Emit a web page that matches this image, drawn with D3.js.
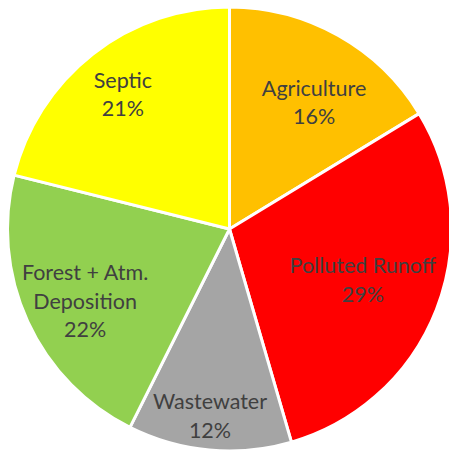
<!DOCTYPE html>
<html>
<head>
<meta charset="utf-8">
<script src="https://cdn.jsdelivr.net/npm/d3@7"></script>
<style>
  html, body { margin: 0; padding: 0; background: #fff; }
  svg text { font-family: Lato, "Open Sans", sans-serif; }
</style>
</head>
<body>
<div id="chart"></div>
<script>
// slice data, clockwise from 12 o'clock
var categories = ["Agriculture", "Polluted Runoff", "Wastewater", "Forest + Atm. Deposition", "Septic"];
var shares = [16.3, 29.2, 11.9, 21.5, 21.1];
var colors = ["#FFC000", "#FF0000", "#A5A5A5", "#92D050", "#FFFF00"];
var labelLines = [["Agriculture"], ["Polluted Runoff"], ["Wastewater"], ["Forest + Atm.", "Deposition"], ["Septic"]];

// where excel put each label: fraction of radius + angle nudge in degrees (layout only)
var labelPos = {
    "Agriculture": {r: 0.693, da: 4},
    "Polluted Runoff": {r: 0.64, da: -1},
    "Wastewater": {r: 0.838, da: 0.8},
    "Forest + Atm. Deposition": {r: 0.723, da: -1.2},
    "Septic": {r: 0.78, da: 0}
};

var width = 449, height = 453,
    cx = 229.5, cy = 229,
    radius = 222;

var data = categories.map(function(c, i) {
    return {name: c, value: shares[i], color: colors[i], lines: labelLines[i]};
});

var svg = d3.select("#chart").append("svg")
    .attr("width", width)
    .attr("height", height)
    .append("g")
    .attr("transform", "translate(" + cx + "," + cy + ")");

var pie = d3.pie()
    .sort(null)
    .value(function(d) { return d.value; });

var arc = d3.arc()
    .innerRadius(0)
    .outerRadius(radius);

var arcs = pie(data);

svg.selectAll("path.slice")
    .data(arcs)
    .enter().append("path")
    .attr("class", "slice")
    .attr("d", arc)
    .attr("fill", function(d) { return d.data.color; })
    .attr("stroke", "#fff")
    .attr("stroke-width", 3)
    .attr("stroke-linejoin", "round");

var lineH = 28.5;

var labels = svg.selectAll("text.lbl")
    .data(arcs)
    .enter().append("text")
    .attr("class", "lbl")
    .attr("text-anchor", "middle")
    .attr("fill", "#404040")
    .style("font-size", "21.5px")
    .attr("transform", function(d) {
        var p = labelPos[d.data.name];
        var r = radius * p.r;
        var a = (d.startAngle + d.endAngle) / 2 + p.da * Math.PI / 180;
        return "translate(" + (r * Math.sin(a)) + "," + (-r * Math.cos(a) + 2) + ")";
    });

labels.each(function(d) {
    var t = d3.select(this);
    var rows = d.data.lines.concat([Math.round(d.data.value) + "%"]);
    var y0 = -(rows.length - 1) * lineH / 2;
    rows.forEach(function(s, i) {
        t.append("tspan")
            .attr("x", 0)
            .attr("y", y0 + i * lineH)
            .attr("dy", "0.35em")
            .text(s);
    });
});
</script>
</body>
</html>
